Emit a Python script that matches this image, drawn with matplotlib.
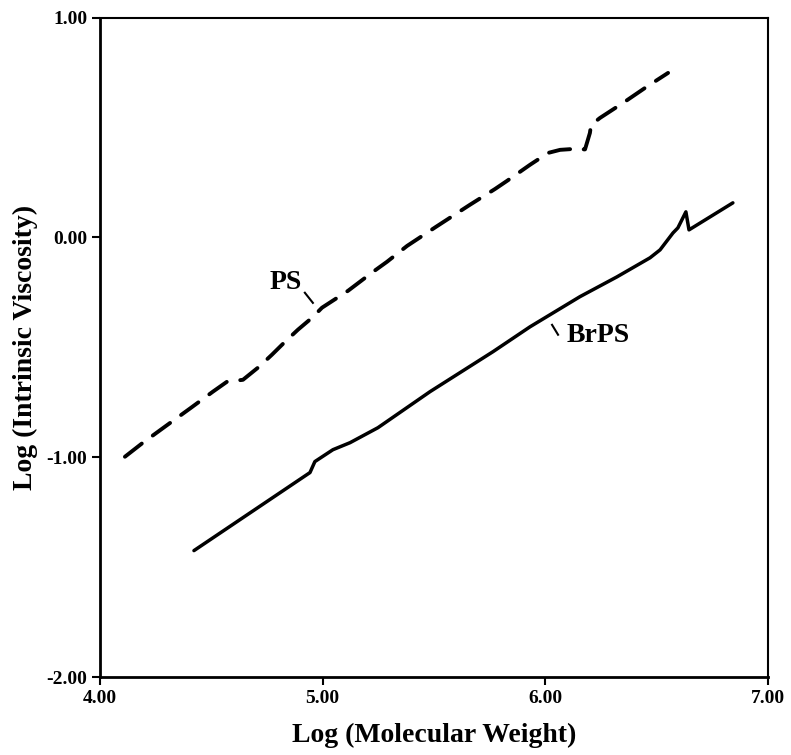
import matplotlib
matplotlib.use("Agg")
import matplotlib.pyplot as plt

# PS (dashed) curve
ps_x = [4.112, 4.193, 4.292, 4.409, 4.507, 4.570, 4.642, 4.714, 4.772, 4.831,
        4.889, 4.952, 4.997, 5.114, 5.226, 5.289, 5.379, 5.509, 5.661, 5.774,
        5.828, 5.931, 6.012, 6.066, 6.124, 6.178, 6.200, 6.205, 6.245, 6.348,
        6.461, 6.551]
ps_y = [-0.998, -0.934, -0.861, -0.775, -0.702, -0.657, -0.648, -0.589, -0.534, -0.475,
        -0.420, -0.366, -0.320, -0.243, -0.157, -0.111, -0.039, 0.048, 0.148, 0.220,
        0.257, 0.330, 0.384, 0.398, 0.402, 0.400, 0.475, 0.511, 0.543, 0.611,
        0.689, 0.748]

# BrPS (solid) curve
brps_x = [4.422, 4.943, 4.965, 5.046, 5.123, 5.248, 5.482, 5.765, 5.931, 6.155,
          6.321, 6.470, 6.515, 6.573, 6.595, 6.631, 6.645, 6.842]
brps_y = [-1.425, -1.070, -1.020, -0.966, -0.934, -0.866, -0.702, -0.520, -0.407, -0.270,
          -0.180, -0.093, -0.057, 0.020, 0.043, 0.116, 0.034, 0.157]

x_ticks = [4.0, 5.0, 6.0, 7.0]
x_tick_labels = ["4.00", "5.00", "6.00", "7.00"]
y_ticks = [-2.0, -1.0, 0.0, 1.0]
y_tick_labels = ["-2.00", "-1.00", "0.00", "1.00"]

serif = ["Liberation Serif", "DejaVu Serif"]

fig = plt.figure(figsize=(7.91, 7.55), dpi=100)
ax = fig.add_axes([0.1264, 0.1033, 0.8446, 0.8735])

ax.plot(ps_x, ps_y, color="black", lw=2.8, linestyle=(0, (5.5, 3.5)),
        dash_capstyle="round", solid_capstyle="round")
ax.plot(brps_x, brps_y, color="black", lw=2.5, solid_capstyle="round",
        solid_joinstyle="round")

# labels with leader lines
ax.text(4.835, -0.205, "PS", fontsize=20, fontweight="bold", family=serif,
        ha="center", va="center")
ax.plot([4.920, 4.956], [-0.252, -0.298], color="black", lw=1.5)
ax.text(6.095, -0.445, "BrPS", fontsize=20, fontweight="bold", family=serif,
        ha="left", va="center")
ax.plot([6.030, 6.057], [-0.398, -0.443], color="black", lw=1.5)

ax.set_xlim(4.0, 7.0)
ax.set_ylim(-2.0, 1.0)
ax.set_xticks(x_ticks)
ax.set_xticklabels(x_tick_labels)
ax.set_yticks(y_ticks)
ax.set_yticklabels(y_tick_labels)
for lab in ax.get_xticklabels() + ax.get_yticklabels():
    lab.set_fontfamily(serif)
    lab.set_fontweight("bold")
    lab.set_fontsize(14)
ax.tick_params(direction="out", length=6, width=1.5, pad=3)

for side in ["left", "bottom"]:
    ax.spines[side].set_linewidth(2.0)
for side in ["top", "right"]:
    ax.spines[side].set_linewidth(1.5)

ax.set_xlabel("Log (Molecular Weight)", fontsize=20, fontweight="bold",
              family=serif, labelpad=12)
ax.set_ylabel("Log (Intrinsic Viscosity)", fontsize=20, fontweight="bold",
              family=serif, labelpad=6)

fig.savefig("out.png", dpi=100)
